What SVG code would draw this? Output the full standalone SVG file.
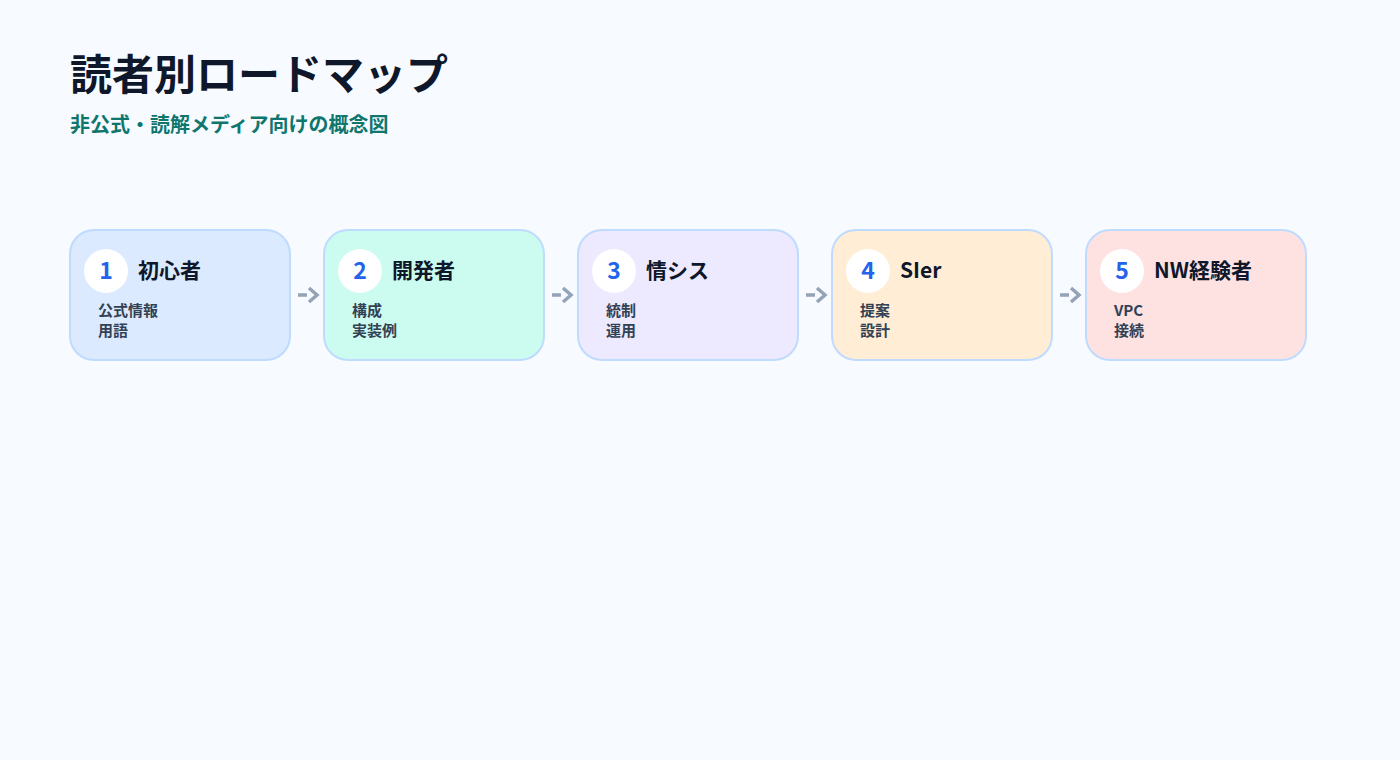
<svg xmlns="http://www.w3.org/2000/svg" width="1400" height="760" viewBox="0 0 1400 760">
<defs>
<style>
text{font-family:"Noto Sans CJK JP","Noto Sans",sans-serif;font-weight:700}
.card{stroke:#bfdbfe;stroke-width:2}
.num{font-size:23px;fill:#2563eb;text-anchor:middle}
.ttl{font-size:21px;fill:#0f172a}
.sub{font-size:15px;fill:#334155}
.conn{stroke:#94a3b8;stroke-width:3.5;fill:none}
</style>
</defs>
<rect width="1400" height="760" fill="#f7fbff"/>
<text x="70" y="90" font-size="42" fill="#0f172a">読者別ロードマップ</text>
<text x="70" y="132" font-size="20" fill="#0f766e">非公式・読解メディア向けの概念図</text>
<g id="connectors">
<g transform="translate(298,295)"><path class="conn" d="M0 0H9M11 -7L19 0L11 7"/></g>
<g transform="translate(552,295)"><path class="conn" d="M0 0H9M11 -7L19 0L11 7"/></g>
<g transform="translate(806,295)"><path class="conn" d="M0 0H9M11 -7L19 0L11 7"/></g>
<g transform="translate(1060,295)"><path class="conn" d="M0 0H9M11 -7L19 0L11 7"/></g>
</g>
<g id="node1" transform="translate(70,230)">
<rect class="card" x="0" y="0" width="220" height="130" rx="24" fill="#dbeafe"/>
<circle cx="36" cy="41" r="22" fill="#ffffff"/>
<text class="num" x="36" y="49">1</text>
<text class="ttl" x="68" y="48">初心者</text>
<text class="sub" x="28" y="86">公式情報</text>
<text class="sub" x="28" y="106">用語</text>
</g>
<g id="node2" transform="translate(324,230)">
<rect class="card" x="0" y="0" width="220" height="130" rx="24" fill="#ccfbef"/>
<circle cx="36" cy="41" r="22" fill="#ffffff"/>
<text class="num" x="36" y="49">2</text>
<text class="ttl" x="68" y="48">開発者</text>
<text class="sub" x="28" y="86">構成</text>
<text class="sub" x="28" y="106">実装例</text>
</g>
<g id="node3" transform="translate(578,230)">
<rect class="card" x="0" y="0" width="220" height="130" rx="24" fill="#ede9fe"/>
<circle cx="36" cy="41" r="22" fill="#ffffff"/>
<text class="num" x="36" y="49">3</text>
<text class="ttl" x="68" y="48">情シス</text>
<text class="sub" x="28" y="86">統制</text>
<text class="sub" x="28" y="106">運用</text>
</g>
<g id="node4" transform="translate(832,230)">
<rect class="card" x="0" y="0" width="220" height="130" rx="24" fill="#ffedd5"/>
<circle cx="36" cy="41" r="22" fill="#ffffff"/>
<text class="num" x="36" y="49">4</text>
<text class="ttl" x="68" y="48">SIer</text>
<text class="sub" x="28" y="86">提案</text>
<text class="sub" x="28" y="106">設計</text>
</g>
<g id="node5" transform="translate(1086,230)">
<rect class="card" x="0" y="0" width="220" height="130" rx="24" fill="#fee2e2"/>
<circle cx="36" cy="41" r="22" fill="#ffffff"/>
<text class="num" x="36" y="49">5</text>
<text class="ttl" x="68" y="48">NW経験者</text>
<text class="sub" x="28" y="86">VPC</text>
<text class="sub" x="28" y="106">接続</text>
</g>
</svg>
